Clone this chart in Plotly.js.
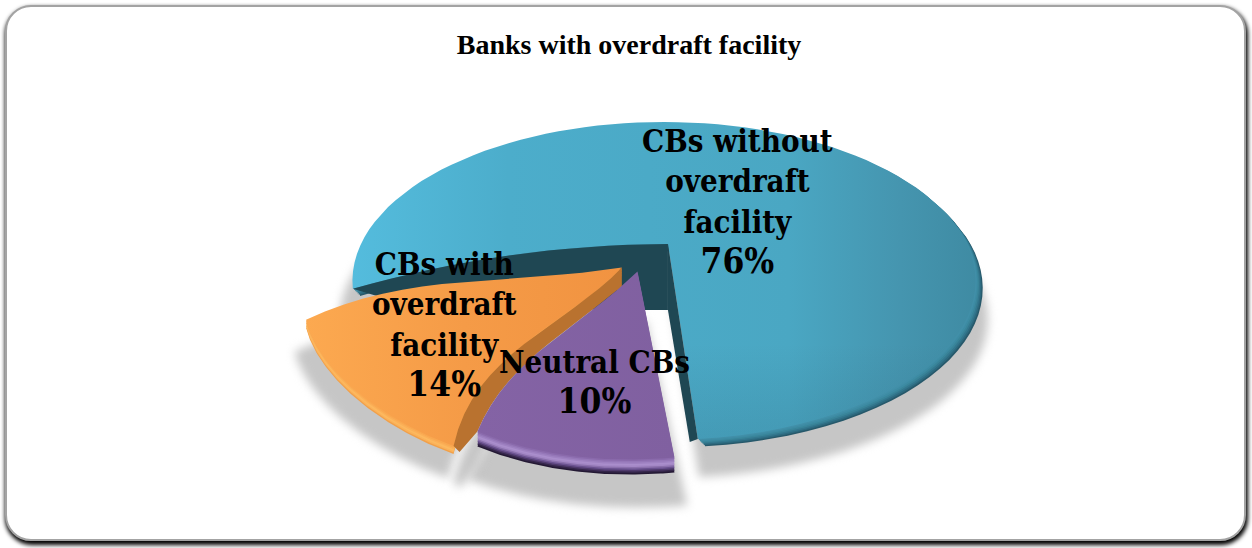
<!DOCTYPE html>
<html>
<head>
<meta charset="utf-8">
<script src="https://cdn.plot.ly/plotly-3.0.1.min.js"></script>
<style>
  html, body { margin: 0; padding: 0; width: 1252px; height: 548px; background: #fff; overflow: hidden; }
  #frame { position: absolute; left: 5px; top: 5px; width: 1241px; height: 536px; box-sizing: border-box;
           border: 2px solid #a3a3a3; border-radius: 26px; background: #fff;
           box-shadow: 1px 3px 4px 1px #000; }
  #chart { position: absolute; left: 0; top: 0; width: 1252px; height: 548px; }
</style>
</head>
<body>
<div id="frame"></div>
<div id="chart"></div>
<script>
// Share of commercial banks by overdraft facility
const categories = ['CBs without<br>overdraft<br>facility', 'CBs with<br>overdraft<br>facility', 'Neutral CBs'];
const shares = [76, 14, 10];
const chartTitle = 'Banks with overdraft facility';

// Tilted-disc projection: u/v lie in the pie's plane, the axes run in screen pixels
const view = { cx: 663.5, cy: 244, rx: 303, ry: 150.4, persp: 0.2326 };
function project(u, v) {
  const s = 1 / (1 + view.persp * v);
  return [view.cx + view.rx * u * s, view.cy - view.ry * v * s];
}

// Drawing style of each wedge, in the order of the shares
const looks = [
  { origin: [0.0015, 0], apexNudge: 4, radius: 1, flatten: 0, turn: 0, stretch: 1.028, squeeze: 1,
    surface: [[0, '#54bcdd'], [0.25, '#4cadcb'], [0.7, '#4aa7c3'], [0.88, '#4595af'], [1, '#3f8ba3']],
    bevel: ['#27596b', '#2d6a7f', '#33778e', '#398499', '#3d8ba3', '#418fa8'], step: [1.2, 1.2],
    bows: [0, 11], skew: false, shadow: [0, 38, 1.04] },
  { origin: [-0.155, -0.15], apexNudge: 7, radius: 0.95, flatten: 0.02, turn: 10, stretch: 0.96, squeeze: 1,
    surface: [[0, '#fca950'], [0.5, '#f59b47'], [1, '#f19341']],
    bevel: ['#f1a04a', '#fbb25a', '#fdb95f', '#fbb058', '#f9a850'], step: [0, 1.6],
    bows: [14, 22], skew: true, shadow: [3, 32, 1.04] },
  { origin: [-0.0823, -0.175], apexNudge: 0, radius: 0.9, flatten: 0, turn: 2.7, stretch: 1, squeeze: 0.92,
    surface: [[0, '#8463a5'], [1, '#8060a0']],
    bevel: ['#241934', '#35264a', '#4f3a6c', '#6b5290', '#8b70ad', '#a488c6', '#aa8ecc', '#9f82c2', '#9577b8', '#8a6aac'], step: [0, 1.5],
    bows: [14, 0], skew: true, shadow: [12, 48, 1.115] }
];
const startAngle = -85.1;

// Cut edge from the apex out to the rim, bowed sideways by a few pixels
function bowedEdge(a, b, bow, skew) {
  const pts = [];
  const nx = -(b[1] - a[1]), ny = b[0] - a[0], len = Math.hypot(nx, ny) || 1;
  for (let i = 0; i <= 16; i++) {
    const t = i / 16;
    const shape = skew ? 6.75 * t * t * (1 - t) : 4 * t * (1 - t);
    const k = shape * bow / len;
    pts.push([a[0] + (b[0] - a[0]) * t + nx * k, a[1] + (b[1] - a[1]) * t + ny * k]);
  }
  return pts;
}

// Outline of one wedge as screen points, with its sweep taken from the share
function wedge(look, from, to) {
  const base = project(look.origin[0], look.origin[1]);
  const apex = [base[0] + look.apexNudge, base[1]];
  const rim = [];
  for (let i = 0; i <= 90; i++) {
    const t = i / 90;
    const a = (from + (to - from) * t) * Math.PI / 180;
    const r = look.radius * (1 - look.flatten * Math.sin(Math.PI * t));
    rim.push(project(look.origin[0] + look.squeeze * r * Math.cos(a), look.origin[1] + r * Math.sin(a)));
  }
  const westCut = bowedEdge(apex, rim[rim.length - 1], look.bows[1], look.skew);
  const southCut = bowedEdge(apex, rim[0], look.bows[0], look.skew);
  return { apex, rim, westCut, southCut, outline: southCut.concat(rim, westCut.slice().reverse()) };
}

function polygon(pts, extra) {
  const closed = pts.concat([pts[0]]);
  return Object.assign({
    type: 'scatter', mode: 'lines', x: closed.map(p => p[0]), y: closed.map(p => p[1]),
    line: { width: 0 }, fill: 'toself', hoverinfo: 'skip', showlegend: false
  }, extra);
}

const total = shares.reduce((a, b) => a + b, 0);
let cursor = startAngle;
const wedges = shares.map((share, i) => {
  const sweep = share / total * 360;
  const from = cursor + looks[i].turn, to = from + sweep * looks[i].stretch;
  cursor += sweep;
  return wedge(looks[i], from, to);
});

// Brown cut face of the orange wedge, running across to the purple wedge's edge
const orange = wedges[1];
const purple = wedges[2];
const orangeEnd = orange.rim[orange.rim.length - 1];
const orangeFacePts = orange.westCut.concat(
  [[orangeEnd[0] + 6, orangeEnd[1] + 6]],
  purple.southCut.slice(2).reverse(),
  [[orange.apex[0], orange.apex[1] + 22]]
);

const shadowColor = '#c6c6c6';
const shadowTraces = wedges.map((w, i) => polygon(
  w.outline.map(p => [668 + (p[0] - 668) * looks[i].shadow[2] + looks[i].shadow[0], p[1] + looks[i].shadow[1]]),
  { fillcolor: shadowColor }));
shadowTraces.push(polygon(orangeFacePts.map(p => [p[0], p[1] + 36]), { fillcolor: shadowColor }));

function layered(w, look) {
  const n = look.bevel.length;
  const layers = look.bevel.map((color, k) => polygon(
    w.outline.map(p => [p[0] + look.step[0] * (n - k), p[1] + look.step[1] * (n - k)]), { fillcolor: color }));
  layers.push(polygon(w.outline, {
    fillcolor: look.surface[0][1],
    fillgradient: { type: 'horizontal', colorscale: look.surface }
  }));
  return layers;
}

// Slight darkening towards the back of the disc
const blue = wedges[0];
const backShade = polygon(blue.outline, {
  fillcolor: 'rgba(30,70,90,0.1)',
  fillgradient: { type: 'vertical', colorscale: [[0, 'rgba(30,70,90,0.14)'], [0.3, 'rgba(30,70,90,0)'], [1, 'rgba(30,70,90,0)']] }
});

// Dark cut faces of the large wedge, seen through the gap left by the other two
const inner = [blue.apex[0], blue.apex[1] + 66];
const southEnd = blue.rim[0];
const westEnd = blue.rim[blue.rim.length - 1];
const cutFaces = [
  polygon([blue.apex, southEnd, [southEnd[0] - 8, southEnd[1] + 3], inner], { fillcolor: '#1f4753' }),
  polygon(blue.westCut.concat([[westEnd[0] + 40, westEnd[1] + 12], [inner[0] - 60, inner[1]], inner]),
          { fillcolor: '#1f4753' })
];

const traces = [].concat(
  shadowTraces,
  layered(blue, looks[0]),
  [backShade],
  cutFaces,
  layered(orange, looks[1]),
  [polygon(orangeFacePts, { fillcolor: '#b9722f' })],
  layered(purple, looks[2])
);

const labelAnchors = [[737, 202], [444, 325], [594, 382]];
const annotations = categories.map((name, i) => ({
  x: labelAnchors[i][0], y: labelAnchors[i][1], xref: 'x', yref: 'y',
  text: '<b>' + name + '<br><span style="font-size:35px">' + shares[i] + '%</span></b>', showarrow: false, align: 'center',
  font: { family: '"DejaVu Serif Condensed", "DejaVu Serif", serif', size: 31, color: '#000' }
}));

const layout = {
  width: 1252, height: 548,
  margin: { l: 0, r: 0, t: 0, b: 0 },
  paper_bgcolor: 'rgba(0,0,0,0)', plot_bgcolor: 'rgba(0,0,0,0)',
  title: { text: '<b>' + chartTitle + '</b>', x: 629 / 1252, xanchor: 'center', y: 1 - 44 / 548, yanchor: 'middle',
           font: { family: '"Liberation Serif", serif', size: 28, color: '#000' } },
  xaxis: { range: [0, 1252], visible: false, fixedrange: true },
  yaxis: { range: [548, 0], visible: false, fixedrange: true },
  showlegend: false,
  annotations
};

Plotly.newPlot('chart', traces, layout, { displayModeBar: false, staticPlot: true }).then(gd => {
  // Soft edge on the drop shadows
  const groups = gd.querySelectorAll('.scatterlayer .trace');
  shadowTraces.forEach((_, i) => { groups[i].style.filter = 'blur(5px)'; });
});
</script>
</body>
</html>
